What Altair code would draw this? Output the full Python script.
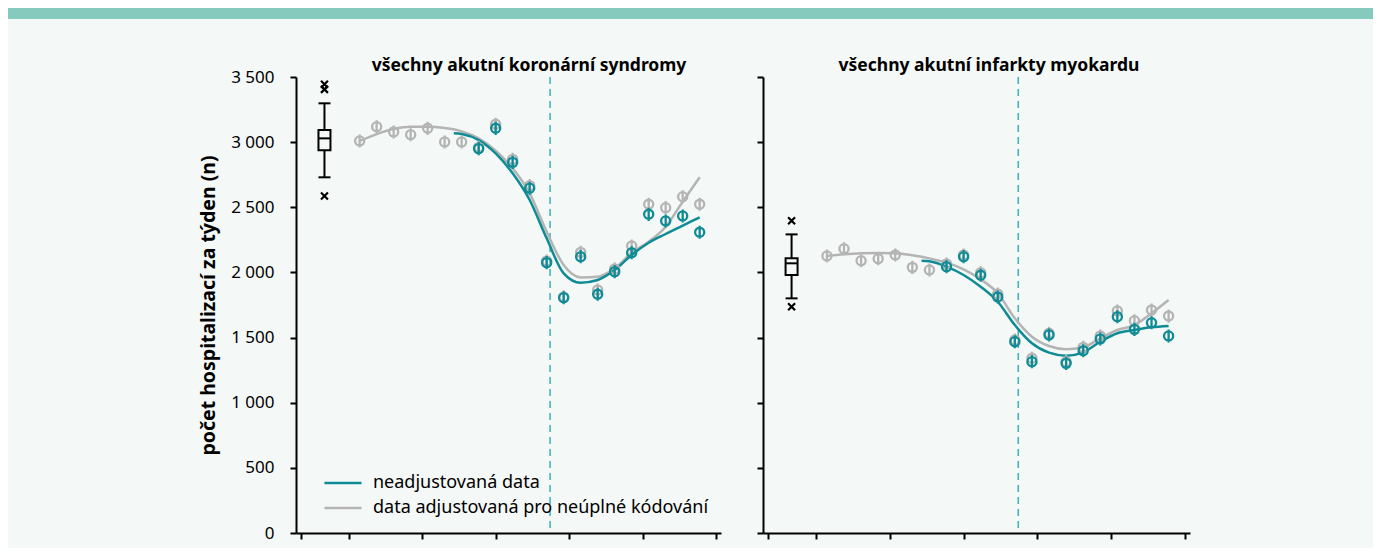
import altair as alt
import pandas as pd

FONT = "Noto Sans"
TEAL = "#0E8B94"
GRAY = "#B4B4B4"
DASH = "#3DAFBA"
BAND = "#86CABD"
BG = "#F4F8F7"

LAB_UNADJ = "\u2009neadjustovaná data"
LAB_ADJ = "data adjustovaná pro neúplné kódování"

# x positions in weeks (0 = first week shown)
weeks = list(range(21))
unadj_weeks = list(range(7, 21))
unadj_line_weeks = [5.54] + list(range(6, 21))
x_ticks = [-3.45, -0.63, 3.69, 8.0, 12.32, 16.64, 20.96]
x_domain = [-3.45, 20.96]
box_x = -2.07
cutoff_week = 11.2
y_ticks = [0, 500, 1000, 1500, 2000, 2500, 3000, 3500]

# všechny akutní koronární syndromy
acs_adj = [3009, 3118, 3078, 3057, 3106, 3001, 3001, 2960, 3137, 2868, 2666,
           2088, 1812, 2154, 1865, 2026, 2203, 2523, 2497, 2581, 2523]
acs_unadj = [2950, 3106, 2845, 2646, 2075, 1806, 2121, 1832, 2006, 2151,
             2446, 2395, 2433, 2308]
acs_adj_line = [3009, 3062, 3101, 3118, 3118, 3108, 3083, 3029, 2934, 2799,
                2607, 2312, 2057, 1962, 1967, 2031, 2151, 2236, 2351, 2543, 2730]
acs_unadj_line = [3068, 3062, 3016, 2914, 2761, 2556, 2262, 1993, 1921, 1942,
                  2018, 2134, 2228, 2295, 2359, 2423]
acs_box = {"q1": 2937, "med": 3029, "q3": 3093, "lo": 2730, "hi": 3298}
acs_out = [3445, 3405, 2587]

# všechny akutní infarkty myokardu
ami_adj = [2126, 2182, 2090, 2105, 2134, 2039, 2019, 2065, 2134, 1998, 1834,
           1481, 1341, 1533, 1315, 1425, 1512, 1704, 1629, 1711, 1665]
ami_unadj = [2044, 2121, 1978, 1811, 1468, 1315, 1520, 1302, 1399, 1489,
             1660, 1563, 1614, 1512]
ami_adj_line = [2126, 2139, 2147, 2149, 2147, 2131, 2108, 2075, 2024, 1947,
                1840, 1648, 1507, 1435, 1410, 1425, 1494, 1558, 1596, 1686, 1788]
ami_unadj_line = [2090, 2085, 2044, 1980, 1890, 1775, 1596, 1456, 1384, 1361,
                  1387, 1468, 1533, 1558, 1579, 1589]
ami_box = {"q1": 1980, "med": 2070, "q3": 2108, "lo": 1801, "hi": 2292}
ami_out = [2397, 1737]

PHI = "M-0.8,0A0.8,0.8 0 1,1 0.8,0A0.8,0.8 0 1,1 -0.8,0M0,-1.15L0,1.15"
CROSS = "M-1,-1L1,1M-1,1L1,-1"


def panel(adj, unadj, adj_line, unadj_line, box, outl, title, title_x, width, left):
    xs = alt.Scale(domain=x_domain, nice=False, zero=False)
    ys = alt.Scale(domain=[0, 3500], nice=False)
    xax = alt.Axis(values=x_ticks, labels=False, title=None, grid=False,
                   domainColor="black", domainWidth=2, tickColor="black",
                   tickWidth=2, tickSize=6)
    if left:
        yax = alt.Axis(values=y_ticks, title="počet hospitalizací za týden (n)",
                       titleFont=FONT, titleFontSize=19.5, titleFontWeight="bold",
                       titleColor="black", titlePadding=12,
                       labelExpr="replace(format(datum.value, ','), ',', ' ')",
                       labelFont=FONT, labelFontSize=17, labelColor="black",
                       labelPadding=16, grid=False, domainColor="black",
                       domainWidth=2, tickColor="black", tickWidth=2, tickSize=6)
    else:
        yax = alt.Axis(values=y_ticks, labels=False, title=None, grid=False,
                       domainColor="black", domainWidth=2, tickColor="black",
                       tickWidth=2, tickSize=6)

    lines_df = pd.concat([
        pd.DataFrame({"x": weeks, "y": adj_line, "series": LAB_ADJ, "o": 0}),
        pd.DataFrame({"x": unadj_line_weeks, "y": unadj_line, "series": LAB_UNADJ, "o": 1}),
    ])
    if left:
        leg = alt.Legend(title=None, orient="none", legendX=38, legendY=397,
                         symbolType="M-3.6,0L3.6,0", symbolSize=106,
                         symbolStrokeWidth=2.5, labelFont=FONT, labelFontSize=18,
                         labelColor="black", labelOffset=21, rowPadding=7,
                         padding=0, labelLimit=600)
    else:
        leg = None
    color = alt.Color("series:N",
                      scale=alt.Scale(domain=[LAB_UNADJ, LAB_ADJ], range=[TEAL, GRAY]),
                      legend=leg)

    lines = alt.Chart(lines_df).mark_line(interpolate="monotone", strokeWidth=2.5).encode(
        x=alt.X("x:Q", scale=xs, axis=xax),
        y=alt.Y("y:Q", scale=ys, axis=yax),
        color=color,
        detail="series:N",
        order="o:Q",
    )

    pts_adj = alt.Chart(pd.DataFrame({"x": weeks, "y": adj})).mark_point(
        shape=PHI, size=130, filled=False, strokeWidth=2.3, color=GRAY, opacity=1
    ).encode(x=alt.X("x:Q", scale=xs), y=alt.Y("y:Q", scale=ys))
    pts_unadj = alt.Chart(pd.DataFrame({"x": unadj_weeks, "y": unadj})).mark_point(
        shape=PHI, size=130, filled=False, strokeWidth=2.3, color=TEAL, opacity=1
    ).encode(x=alt.X("x:Q", scale=xs), y=alt.Y("y:Q", scale=ys))

    cut = alt.Chart(pd.DataFrame({"x": [cutoff_week]})).mark_rule(
        color=DASH, strokeWidth=1.5, strokeDash=[7, 5]
    ).encode(x=alt.X("x:Q", scale=xs))

    bdf = pd.DataFrame([dict(box, x=box_x)])
    whisk = alt.Chart(bdf).mark_rule(color="black", strokeWidth=2).encode(
        x=alt.X("x:Q", scale=xs), y=alt.Y("lo:Q", scale=ys), y2="hi:Q")
    caps_lo = alt.Chart(bdf).mark_tick(orient="horizontal", size=12, thickness=2,
                                       color="black", opacity=1).encode(
        x=alt.X("x:Q", scale=xs), y=alt.Y("lo:Q", scale=ys))
    caps_hi = alt.Chart(bdf).mark_tick(orient="horizontal", size=12, thickness=2,
                                       color="black", opacity=1).encode(
        x=alt.X("x:Q", scale=xs), y=alt.Y("hi:Q", scale=ys))
    boxr = alt.Chart(bdf).mark_bar(size=12, fill=BG, stroke="black",
                                   strokeWidth=2).encode(
        x=alt.X("x:Q", scale=xs), y=alt.Y("q1:Q", scale=ys), y2="q3:Q")
    med = alt.Chart(bdf).mark_tick(orient="horizontal", size=12, thickness=2,
                                   color="black", opacity=1).encode(
        x=alt.X("x:Q", scale=xs), y=alt.Y("med:Q", scale=ys))
    outs = alt.Chart(pd.DataFrame({"x": [box_x] * len(outl), "y": outl})).mark_point(
        shape=CROSS, size=49, filled=False, strokeWidth=2.2, color="black", opacity=1
    ).encode(x=alt.X("x:Q", scale=xs), y=alt.Y("y:Q", scale=ys))

    one = pd.DataFrame({"k": [0]})
    ttl = alt.Chart(one).mark_text(
        text=title, font=FONT, fontSize=17.5, fontWeight="bold", color="black",
        align="center", baseline="alphabetic"
    ).encode(x=alt.value(title_x), y=alt.value(-6))

    layers = [cut, lines, pts_adj, pts_unadj, whisk, caps_lo, caps_hi, boxr, med, outs, ttl]
    if left:
        band = alt.Chart(one).mark_rect(color=BAND).encode(
            x=alt.value(-288), x2=alt.value(1077), y=alt.value(-69), y2=alt.value(-58))
        ext = alt.Chart(one).mark_rect(color=BG).encode(
            x=alt.value(-288), x2=alt.value(-282), y=alt.value(466), y2=alt.value(471))
        layers = [band, ext] + layers

    return alt.layer(*layers).properties(width=width, height=456)


left = panel(acs_adj, acs_unadj, acs_adj_line, acs_unadj_line, acs_box, acs_out,
             "všechny akutní koronární syndromy", 233, 425, True)
right = panel(ami_adj, ami_unadj, ami_adj_line, ami_unadj_line, ami_box, ami_out,
              "všechny akutní infarkty myokardu", 226, 427, False)

chart = alt.hconcat(left, right, spacing=42, bounds="flush").resolve_scale(
    color="independent"
).configure(background=BG, padding=0).configure_view(stroke=None)

chart.save("out.html", embed_options={"renderer": "svg", "actions": False})
